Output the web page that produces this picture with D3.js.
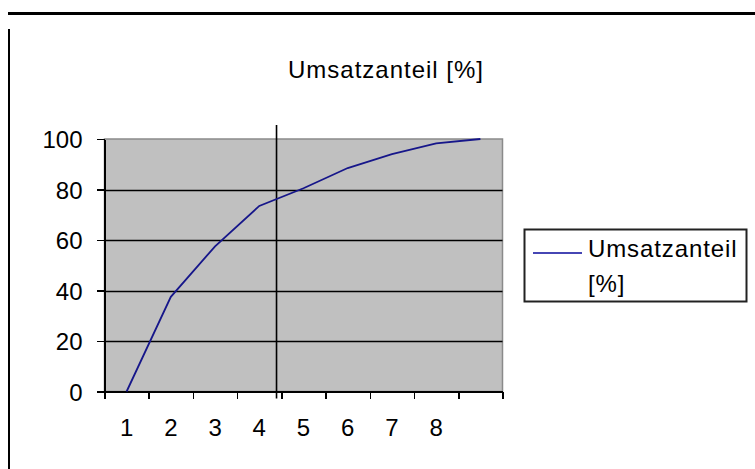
<!DOCTYPE html>
<html>
<head>
<meta charset="utf-8">
<script src="https://cdn.jsdelivr.net/npm/d3@7"></script>
<style>
  body { margin: 0; background: #fff; }
  svg { display: block; font-family: "Liberation Sans", Arial, sans-serif; }
  .axis path, .axis line { stroke: #000; shape-rendering: crispEdges; }
  .axis text { font-size: 24px; fill: #000; }
</style>
</head>
<body>
<div id="chart"></div>
<script>
// data
var categories = ["1", "2", "3", "4", "5", "6", "7", "8", ""];
var umsatzanteil = [0, 37.5, 57.5, 73.5, 80.5, 88.5, 94, 98.3, 100];
var yTicks = [0, 20, 40, 60, 80, 100];
var markerAt = 4.39; // vertical marker line, in category units
var seriesName = "Umsatzanteil [%]";

const W = 755, H = 469;
const plot = { left: 104.5, right: 502.5, top: 139, bottom: 391.5 };

const svg = d3.select("#chart")
  .append("svg")
    .attr("width", W)
    .attr("height", H);

// frame lines of the page
svg.append("line")
  .attr("x1", 8).attr("x2", W)
  .attr("y1", 13.5).attr("y2", 13.5)
  .attr("stroke", "#000").attr("stroke-width", 3);
svg.append("line")
  .attr("x1", 9).attr("x2", 9)
  .attr("y1", 29).attr("y2", H)
  .attr("stroke", "#000").attr("stroke-width", 2);

// scales: category i sits at i (1-based), bands run from i-0.5 to i+0.5
const x = d3.scaleLinear()
  .domain([0.5, categories.length + 0.5])
  .range([plot.left, plot.right]);
const y = d3.scaleLinear()
  .domain([0, 100])
  .range([plot.bottom, plot.top]);

// plot area
svg.append("rect")
  .attr("x", x(0.5)).attr("y", y(100))
  .attr("width", x(categories.length + 0.5) - x(0.5))
  .attr("height", y(0) - y(100))
  .attr("fill", "#c0c0c0")
  .attr("stroke", "#8a8a8a")
  .attr("stroke-width", 1.5);

// gridlines
svg.append("g")
  .selectAll("line")
  .data(yTicks.filter(d => d > 0 && d < 100))
  .join("line")
    .attr("x1", x(0.5)).attr("x2", x(categories.length + 0.5))
    .attr("y1", d => Math.round(y(d)) + 0.5).attr("y2", d => Math.round(y(d)) + 0.5)
    .attr("stroke", "#000")
    .attr("stroke-width", 1.4);

// y axis
const yAxis = svg.append("g")
  .attr("class", "axis")
  .attr("transform", `translate(${x(0.5)},0)`)
  .call(d3.axisLeft(y).tickValues(yTicks).tickSize(8).tickPadding(14).tickSizeOuter(0));
yAxis.select(".domain").attr("stroke-width", 1.5);
yAxis.selectAll(".tick line").attr("stroke-width", 1.5);
yAxis.selectAll("text").attr("dy", "0.36em");

// x axis: tick marks on band edges, labels at band centers
const edges = d3.range(0, categories.length + 1).map(i => i + 0.5);
const xAxis = svg.append("g")
  .attr("class", "axis")
  .attr("transform", `translate(0,${y(0)})`)
  .call(d3.axisBottom(x).tickValues(edges).tickSize(7).tickFormat("").tickSizeOuter(0));
xAxis.select(".domain").attr("stroke-width", 1.5);
xAxis.selectAll(".tick line").attr("stroke-width", 1.5);

svg.append("g")
  .attr("class", "axis")
  .selectAll("text")
  .data(categories)
  .join("text")
    .attr("x", (d, i) => x(i + 1))
    .attr("y", y(0) + 44)
    .attr("text-anchor", "middle")
    .text(d => d);

// vertical marker line
svg.append("line")
  .attr("x1", x(markerAt)).attr("x2", x(markerAt))
  .attr("y1", y(100) - 14).attr("y2", y(0) + 7)
  .attr("stroke", "#000").attr("stroke-width", 1.6);

// series line
const line = d3.line()
  .x((d, i) => x(i + 1))
  .y(d => y(d));
svg.append("path")
  .datum(umsatzanteil)
  .attr("fill", "none")
  .attr("stroke", "#16168a")
  .attr("stroke-width", 1.8)
  .attr("d", line);

// title
svg.append("text")
  .attr("x", 386).attr("y", 78)
  .attr("text-anchor", "middle")
  .style("font-size", "24px")
  .style("letter-spacing", "1px")
  .text(seriesName);

// legend
const lg = svg.append("g").attr("transform", "translate(524,229)");
lg.append("rect")
  .attr("x", 0.5).attr("y", 0.5)
  .attr("width", 222).attr("height", 72)
  .attr("fill", "#fff")
  .attr("stroke", "#222").attr("stroke-width", 2);
lg.append("line")
  .attr("x1", 9).attr("x2", 58)
  .attr("y1", 24).attr("y2", 24)
  .attr("stroke", "#4646b4").attr("stroke-width", 2.2);
const lt = lg.append("text")
  .attr("x", 64).attr("y", 28)
  .style("font-size", "24px")
  .style("letter-spacing", "0.9px");
lt.append("tspan").attr("x", 64).attr("y", 28).text(seriesName.split(" ")[0]);
lt.append("tspan").attr("x", 64).attr("y", 63).text(seriesName.split(" ")[1]);
</script>
</body>
</html>
